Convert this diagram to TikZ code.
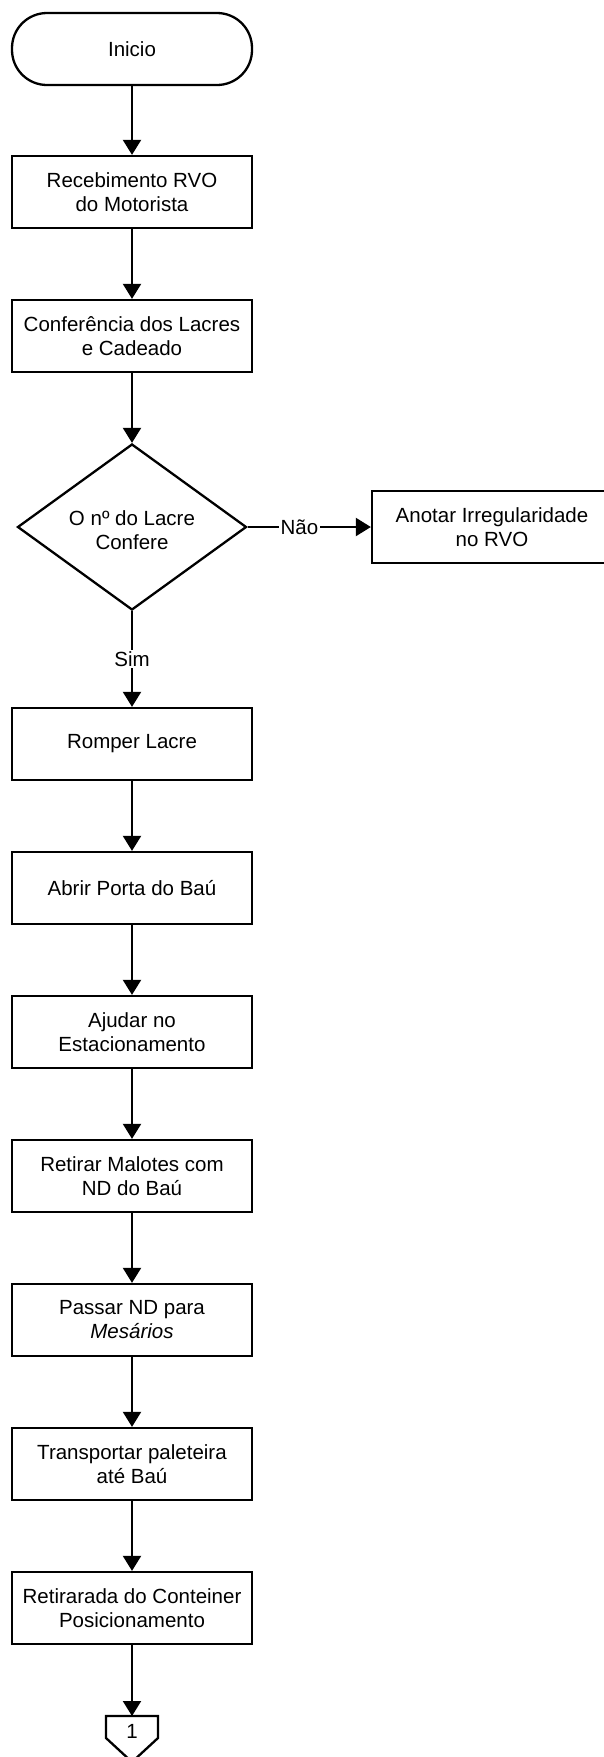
\documentclass[tikz,border=0pt]{standalone}
\usepackage{fontspec}
\setmainfont{Liberation Sans}
\usetikzlibrary{arrows.meta,shapes.geometric}

\tikzset{
  x=1pt, y=-1pt,
  txt/.style={font=\fontsize{20.5pt}{24pt}\selectfont, align=center},
  stepbox/.style={txt, draw, line width=2.3pt, minimum width=240pt,
    minimum height=72pt, inner sep=0pt},
  terminal/.style={stepbox, rounded corners=35pt},
  decision/.style={diamond, draw, line width=2.3pt, minimum width=229pt,
    minimum height=166pt, inner sep=0pt},
  flow/.style={line width=2.1pt, -{Triangle[width=18pt,length=15pt]}},
  lbl/.style={txt, fill=white, inner sep=1.5pt},
}

\begin{document}
\begin{tikzpicture}
\useasboundingbox (0,0) rectangle (603,1757);

% main column of steps
\node[terminal] (start) at (132,49)   {Inicio};
\node[stepbox]  (b1)    at (132,192)  {Recebimento RVO\\do Motorista};
\node[stepbox]  (b2)    at (132,336)  {Conferência dos Lacres\\e Cadeado};
\node[decision] (dec)   at (132,527)  {};
\node[txt]      (dectxt) at (132,530) {O nº do Lacre\\Confere};
\node[stepbox]  (anot)  at (492,527)  {Anotar Irregularidade\\no RVO};
\node[stepbox]  (b3)    at (132,744)  {Romper Lacre};
\node[stepbox]  (b4)    at (132,888)  {Abrir Porta do Baú};
\node[stepbox]  (b5)    at (132,1032) {Ajudar no\\Estacionamento};
\node[stepbox]  (b6)    at (132,1176) {Retirar Malotes com\\ND do Baú};
\node[stepbox]  (b7)    at (132,1320) {Passar ND para\\{\itshape Mesários}};
\node[stepbox]  (b8)    at (132,1464) {Transportar paleteira\\até Baú};
\node[stepbox]  (b9)    at (132,1608) {Retirarada do Conteiner\\Posicionamento};

% off-page connector
\coordinate (con) at (132,1716);
\draw[line width=2.3pt, line join=miter] (con) ++(-26,0) -- ++(52,0) -- ++(0,22)
  -- ++(-26,24) -- ++(-26,-24) -- cycle;
\node[txt] (conlbl) at (132,1731) {1};

% connectors
\draw[flow] (start) -- (b1);
\draw[flow] (b1) -- (b2);
\draw[flow] (b2) -- (dec);
\draw[flow] (dec) -- node[lbl, pos=0.42] {Não} (anot);
\draw[flow] (dec) -- node[lbl] {Sim} (b3);
\draw[flow] (b3) -- (b4);
\draw[flow] (b4) -- (b5);
\draw[flow] (b5) -- (b6);
\draw[flow] (b6) -- (b7);
\draw[flow] (b7) -- (b8);
\draw[flow] (b8) -- (b9);
\draw[flow] (b9) -- (con);
\end{tikzpicture}
\end{document}
